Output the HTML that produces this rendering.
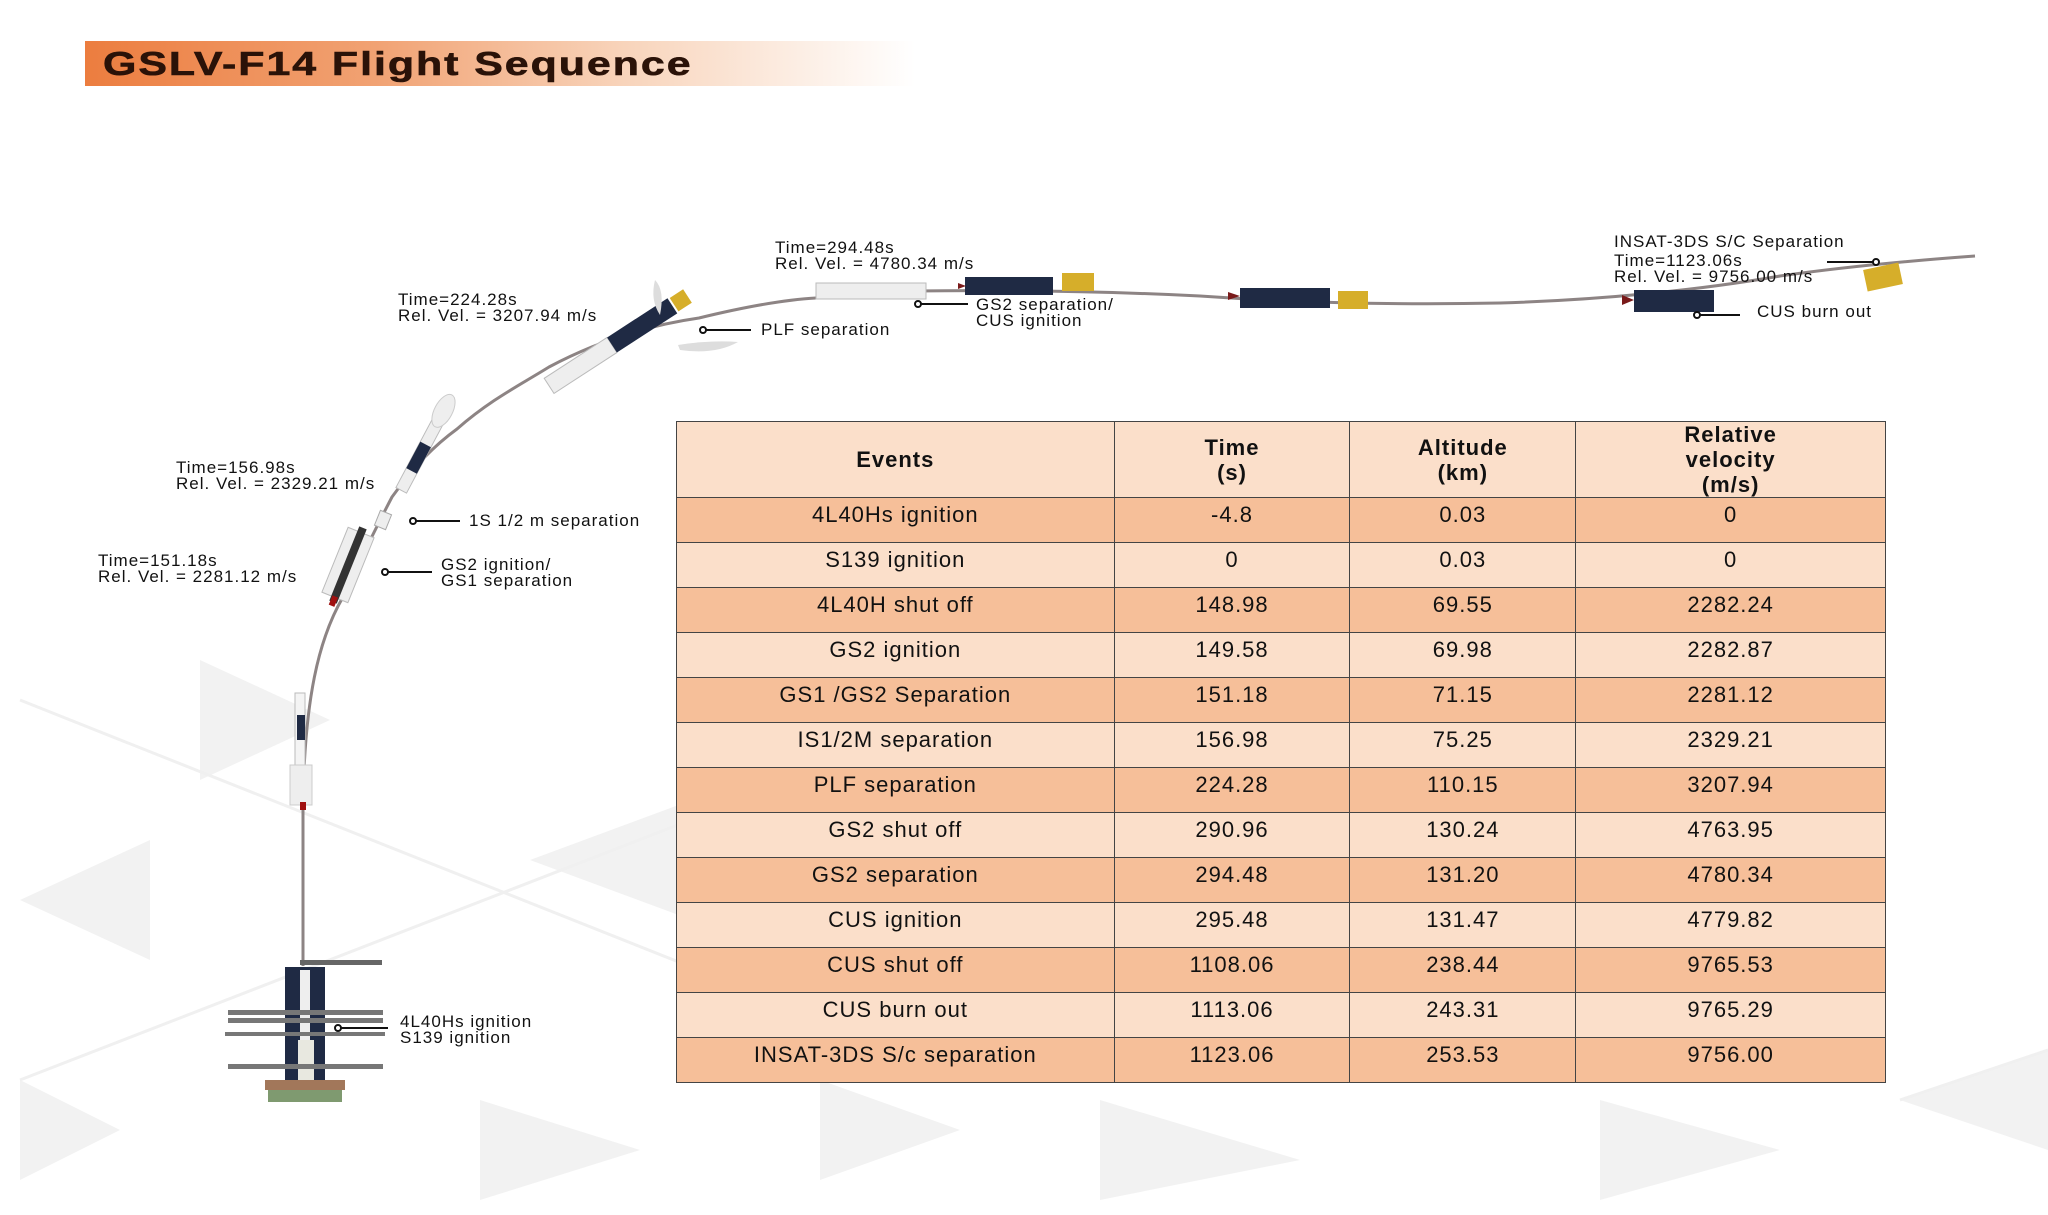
<!DOCTYPE html>
<html><head><meta charset="utf-8">
<style>
html,body{margin:0;padding:0;background:#fff;}
body{width:2048px;height:1215px;position:relative;overflow:hidden;font-family:"Liberation Sans",sans-serif;}
.title{position:absolute;left:85px;top:41px;width:830px;height:45px;background:linear-gradient(90deg,#ec7d3f 0%,#f1a273 35%,#f8d4bb 65%,#fff 100%);}
.title span{position:absolute;left:18px;top:4px;font-weight:bold;font-size:33px;color:#2a1208;letter-spacing:1.5px;transform:scaleX(1.3);transform-origin:0 0;white-space:nowrap;-webkit-text-stroke:0.6px #2a1208;}
.lbl{position:absolute;font-size:17px;line-height:16px;color:#111;white-space:nowrap;letter-spacing:1px;}
table{position:absolute;left:676px;top:421px;width:1210px;height:662px;border-collapse:collapse;font-size:22px;color:#111;letter-spacing:1px;}
td{border:1.5px solid #444;text-align:center;vertical-align:top;padding-top:4px;}
tr.h td{font-weight:bold;vertical-align:middle;padding:0;background:#fbdfca;line-height:25px;}
tr.a td{background:#f6bf99;}
tr.b td{background:#fbdfca;}
</style></head><body>
<svg width="2048" height="1215" style="position:absolute;left:0;top:0">
<g fill="#f2f2f2">
<polygon points="20,900 150,840 150,960"/>
<polygon points="200,660 330,720 200,780"/>
<polygon points="530,860 800,760 800,960"/>
<polygon points="820,1080 960,1130 820,1180"/>
<polygon points="20,1080 120,1130 20,1180"/>
<polygon points="1100,1100 1300,1160 1100,1200"/>
<polygon points="1900,1100 2048,1050 2048,1150"/>
<polygon points="1600,1100 1780,1150 1600,1200"/>
<polygon points="480,1100 640,1150 480,1200"/>
</g>
<g stroke="#f0f0f0" stroke-width="3" fill="none">
<line x1="20" y1="1080" x2="1000" y2="700"/>
<line x1="20" y1="700" x2="900" y2="1050"/>
<line x1="1900" y1="1100" x2="2048" y2="1050"/>
</g>
<rect x="0" y="1202" width="2048" height="13" fill="#fff"/>
<path d="M303,966 L303,800 C305,700 318,640 343,597 C365,550 380,520 392,497 C415,465 435,445 457,429 C490,400 520,385 549,367 C600,340 650,325 699,318 C740,308 780,300 816,298 L914,291 C1000,290 1100,291 1200,296 C1300,303 1400,305 1500,303 C1600,300 1700,290 1780,276 C1850,266 1920,260 1975,256" stroke="#8d8484" stroke-width="3" fill="none"/>
<rect x="285" y="967" width="40" height="120" fill="#1f2a44"/>
<rect x="300" y="970" width="10" height="90" fill="#eee"/>
<rect x="298" y="1040" width="16" height="50" fill="#e8e8e0"/>
<rect x="300" y="960" width="82" height="5" fill="#666"/>
<rect x="228" y="1010" width="155" height="5" fill="#777"/>
<rect x="228" y="1018" width="155" height="5" fill="#777"/>
<rect x="225" y="1032" width="160" height="4" fill="#777"/>
<rect x="228" y="1064" width="155" height="5" fill="#777"/>
<rect x="265" y="1080" width="80" height="10" fill="#a2775a"/>
<rect x="268" y="1090" width="74" height="12" fill="#7f9a70"/>
<rect x="295" y="693" width="10" height="95" fill="#f4f4f4" stroke="#bbb"/>
<rect x="297" y="715" width="8" height="25" fill="#1f2a44"/>
<rect x="290" y="765" width="22" height="40" fill="#eee" stroke="#ccc"/>
<rect x="300" y="802" width="6" height="8" fill="#a01010"/>
<g transform="translate(348,565) rotate(22)">
<rect x="-14" y="-35" width="28" height="70" fill="#eee" stroke="#bbb"/>
<rect x="-4" y="-40" width="8" height="80" fill="#333"/>
<rect x="-3" y="34" width="6" height="10" fill="#a01010"/>
</g>
<g transform="translate(383,520) rotate(22)"><rect x="-6" y="-8" width="12" height="16" fill="#eee" stroke="#aaa"/></g>
<g transform="translate(420,455) rotate(28)">
<rect x="-6" y="-40" width="12" height="80" fill="#eee" stroke="#bbb"/>
<rect x="-6" y="-12" width="12" height="30" fill="#1f2a44"/>
<ellipse cx="0" cy="-50" rx="9" ry="18" fill="#eee" stroke="#ccc"/>
</g>
<g transform="translate(612,345) rotate(-33)">
<rect x="-75" y="-9" width="75" height="18" fill="#eee" stroke="#bbb"/>
<rect x="0" y="-9" width="72" height="18" fill="#1f2a44"/>
<rect x="74" y="-8" width="16" height="16" fill="#d6ae2a"/>
</g>
<path d="M655,280 Q665,290 660,315 Q650,300 655,280Z" fill="#ddd"/>
<path d="M678,345 Q710,340 738,342 Q715,355 680,350Z" fill="#ddd"/>
<rect x="816" y="283" width="110" height="16" fill="#eee" stroke="#bbb"/>
<rect x="965" y="277" width="88" height="18" fill="#1f2a44"/>
<polygon points="958,283 966,286 958,289" fill="#7a1a1a"/>
<rect x="1062" y="273" width="32" height="18" fill="#d6ae2a"/>
<rect x="1240" y="288" width="90" height="20" fill="#1f2a44"/>
<polygon points="1228,292 1240,296 1228,300" fill="#7a1a1a"/>
<rect x="1338" y="291" width="30" height="18" fill="#d6ae2a"/>
<rect x="1634" y="290" width="80" height="22" fill="#1f2a44"/>
<polygon points="1622,295 1634,300 1622,305" fill="#7a1a1a"/>
<rect x="1865" y="266" width="36" height="22" fill="#d6ae2a" transform="rotate(-12 1883 277)"/>
<g stroke="#111" stroke-width="2" fill="#fff">
<line x1="703" y1="330" x2="751" y2="330"/><circle cx="703" cy="330" r="3"/>
<line x1="413" y1="521" x2="460" y2="521"/><circle cx="413" cy="521" r="3"/>
<line x1="385" y1="572" x2="432" y2="572"/><circle cx="385" cy="572" r="3"/>
<line x1="918" y1="304" x2="968" y2="304"/><circle cx="918" cy="304" r="3"/>
<line x1="1697" y1="315" x2="1740" y2="315"/><circle cx="1697" cy="315" r="3"/>
<line x1="1827" y1="262" x2="1875" y2="262"/><circle cx="1876" cy="262" r="3"/>
<line x1="338" y1="1028" x2="388" y2="1028"/><circle cx="338" cy="1028" r="3"/>
</g>
</svg>
<div class="title"><span>GSLV-F14 Flight Sequence</span></div>
<div class="lbl" style="left:775px;top:240px">Time=294.48s<br>Rel. Vel. = 4780.34 m/s</div>
<div class="lbl" style="left:976px;top:297px">GS2 separation/<br>CUS ignition</div>
<div class="lbl" style="left:398px;top:292px">Time=224.28s<br>Rel. Vel. = 3207.94 m/s</div>
<div class="lbl" style="left:761px;top:322px">PLF separation</div>
<div class="lbl" style="left:176px;top:460px">Time=156.98s<br>Rel. Vel. = 2329.21 m/s</div>
<div class="lbl" style="left:469px;top:513px">1S 1/2 m separation</div>
<div class="lbl" style="left:98px;top:553px">Time=151.18s<br>Rel. Vel. = 2281.12 m/s</div>
<div class="lbl" style="left:441px;top:557px">GS2 ignition/<br>GS1 separation</div>
<div class="lbl" style="left:400px;top:1014px">4L40Hs ignition<br>S139 ignition</div>
<div class="lbl" style="left:1614px;top:234px">INSAT-3DS S/C Separation</div>
<div class="lbl" style="left:1614px;top:253px">Time=1123.06s<br>Rel. Vel. = 9756.00 m/s</div>
<div class="lbl" style="left:1757px;top:304px">CUS burn out</div>
<table>
<colgroup><col style="width:438px"><col style="width:236px"><col style="width:226px"><col style="width:310px"></colgroup>
<tr class="h" style="height:70px"><td>Events</td><td>Time<br>(s)</td><td>Altitude<br>(km)</td><td>Relative<br>velocity<br>(m/s)</td></tr>
<tr class="a"><td>4L40Hs ignition</td><td>-4.8</td><td>0.03</td><td>0</td></tr>
<tr class="b"><td>S139 ignition</td><td>0</td><td>0.03</td><td>0</td></tr>
<tr class="a"><td>4L40H shut off</td><td>148.98</td><td>69.55</td><td>2282.24</td></tr>
<tr class="b"><td>GS2 ignition</td><td>149.58</td><td>69.98</td><td>2282.87</td></tr>
<tr class="a"><td>GS1 /GS2 Separation</td><td>151.18</td><td>71.15</td><td>2281.12</td></tr>
<tr class="b"><td>IS1/2M separation</td><td>156.98</td><td>75.25</td><td>2329.21</td></tr>
<tr class="a"><td>PLF separation</td><td>224.28</td><td>110.15</td><td>3207.94</td></tr>
<tr class="b"><td>GS2 shut off</td><td>290.96</td><td>130.24</td><td>4763.95</td></tr>
<tr class="a"><td>GS2 separation</td><td>294.48</td><td>131.20</td><td>4780.34</td></tr>
<tr class="b"><td>CUS ignition</td><td>295.48</td><td>131.47</td><td>4779.82</td></tr>
<tr class="a"><td>CUS shut off</td><td>1108.06</td><td>238.44</td><td>9765.53</td></tr>
<tr class="b"><td>CUS burn out</td><td>1113.06</td><td>243.31</td><td>9765.29</td></tr>
<tr class="a"><td>INSAT-3DS S/c separation</td><td>1123.06</td><td>253.53</td><td>9756.00</td></tr>
</table>
</body></html>
